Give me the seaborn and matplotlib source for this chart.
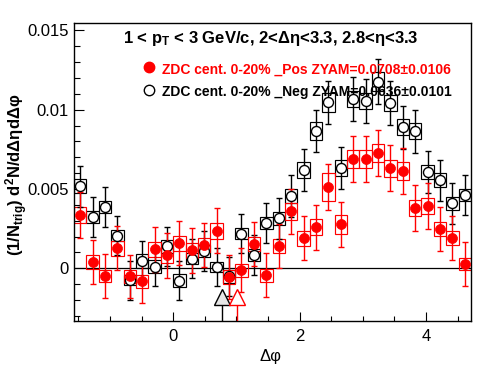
import numpy as np
import pandas as pd
import matplotlib
matplotlib.use("Agg")
import matplotlib.pyplot as plt
import seaborn as sns
from matplotlib.patches import Rectangle
from matplotlib.ticker import MultipleLocator, FixedLocator, FixedFormatter

sns.set_theme(style="white")
plt.rcParams["font.family"] = ["Liberation Sans", "DejaVu Sans"]
plt.rcParams["mathtext.default"] = "regular"
plt.rcParams["text.color"] = "black"
plt.rcParams["axes.labelcolor"] = "black"
plt.rcParams["xtick.color"] = "black"
plt.rcParams["ytick.color"] = "black"

# ---------------- data ----------------
n_bins = 32
phi_lo, phi_hi = -np.pi / 2, 3 * np.pi / 2

neg_y = [0.00518, 0.00324, 0.00387, 0.00207, -0.00076, 0.00048, 0.00011, 0.00138,
         -0.00078, 0.00061, 0.00110, 0.00009, -0.00050, 0.00219, 0.00084, 0.00286,
         0.00316, 0.00456, 0.00620, 0.00866, 0.01046, 0.00631, 0.01068, 0.01055,
         0.01177, 0.01041, 0.00890, 0.00864, 0.00608, 0.00555, 0.00410, 0.00463]
neg_stat = [0.00130, 0.00125, 0.00128, 0.00125, 0.00122, 0.00122, 0.00122, 0.00125,
            0.00122, 0.00122, 0.00125, 0.00122, 0.00122, 0.00125, 0.00125, 0.00128,
            0.00128, 0.00130, 0.00132, 0.00135, 0.00138, 0.00132, 0.00138, 0.00138,
            0.00140, 0.00138, 0.00135, 0.00135, 0.00132, 0.00130, 0.00128, 0.00128]
neg_sys = [0.00045, 0.00040, 0.00040, 0.00035, 0.00032, 0.00045, 0.00040, 0.00040,
           0.00040, 0.00035, 0.00040, 0.00030, 0.00040, 0.00035, 0.00040, 0.00040,
           0.00040, 0.00045, 0.00050, 0.00055, 0.00060, 0.00050, 0.00050, 0.00050,
           0.00060, 0.00050, 0.00050, 0.00050, 0.00045, 0.00045, 0.00040, 0.00040]

pos_y = [0.00337, 0.00040, -0.00048, 0.00127, -0.00051, -0.00081, 0.00119, 0.00082,
         0.00158, 0.00113, 0.00148, 0.00237, -0.00054, -0.00012, 0.00153, -0.00044,
         0.00141, 0.00360, 0.00190, 0.00260, 0.00513, 0.00279, 0.00690, 0.00690,
         0.00728, 0.00631, 0.00614, 0.00381, 0.00392, 0.00247, 0.00192, 0.00028]
pos_stat = [0.00143, 0.00140, 0.00140, 0.00140, 0.00138, 0.00138, 0.00140, 0.00140,
            0.00140, 0.00140, 0.00140, 0.00142, 0.00138, 0.00138, 0.00140, 0.00138,
            0.00140, 0.00143, 0.00140, 0.00142, 0.00145, 0.00142, 0.00147, 0.00147,
            0.00147, 0.00146, 0.00145, 0.00143, 0.00143, 0.00140, 0.00140, 0.00138]
pos_sys = [0.00050, 0.00046, 0.00040, 0.00046, 0.00040, 0.00040, 0.00046, 0.00046,
           0.00046, 0.00046, 0.00046, 0.00050, 0.00046, 0.00042, 0.00046, 0.00040,
           0.00046, 0.00055, 0.00046, 0.00050, 0.00086, 0.00060, 0.00058, 0.00058,
           0.00058, 0.00055, 0.00055, 0.00050, 0.00050, 0.00046, 0.00046, 0.00040]

zyam_phi = [0.777, 1.014]          # [Neg, Pos] ZYAM minimum positions
zyam_marker_y = -0.0018

title_text = r"1 < p$_{T}$ < 3 GeV/c, 2<Δη<3.3, 2.8<η<3.3"
legend_pos = "ZDC cent. 0-20% _Pos ZYAM=0.0708±0.0106"
legend_neg = "ZDC cent. 0-20% _Neg ZYAM=0.0636±0.0101"
x_label = "Δφ"
y_label = r"(1/N$_{trig}$) d$^{2}$N/dΔηdΔφ"
xtick_values = [0, 2, 4]
xtick_labels = ["0", "2", "4"]
ytick_values = [0.0, 0.005, 0.01, 0.015]
ytick_labels = ["0", "0.005", "0.01", "0.015"]

# ---------------- layout ----------------
edges = np.linspace(phi_lo, phi_hi, n_bins + 1)
centers = 0.5 * (edges[:-1] + edges[1:])
width = edges[1] - edges[0]

df = pd.concat([
    pd.DataFrame({"phi": centers, "y": neg_y, "stat": neg_stat, "sys": neg_sys, "set": "Neg"}),
    pd.DataFrame({"phi": centers, "y": pos_y, "stat": pos_stat, "sys": pos_sys, "set": "Pos"}),
], ignore_index=True)

fig = plt.figure(figsize=(4.96, 3.74), dpi=100)
ax = fig.add_axes([74 / 496, 53 / 374, 397 / 496, 298 / 374])

ax.set_xlim(phi_lo, phi_hi)
ax.set_ylim(-0.00332, 0.01547)
ax.axhline(0, color="black", lw=0.9, zorder=1)

styles = {"Neg": dict(color="black"), "Pos": dict(color="red")}
for name in ["Neg", "Pos"]:
    sub = df[df["set"] == name]
    c = styles[name]["color"]
    for _, r in sub.iterrows():
        ax.add_patch(Rectangle((r["phi"] - width / 2, r["y"] - r["sys"]), width, 2 * r["sys"],
                               fill=False, edgecolor=c, lw=0.85, zorder=2))
    ax.errorbar(sub["phi"], sub["y"], yerr=sub["stat"], fmt="none", ecolor=c,
                elinewidth=1.0, capsize=2.5, capthick=1.0, zorder=3)

neg = df[df["set"] == "Neg"]
pos = df[df["set"] == "Pos"]
sns.scatterplot(x=neg["phi"], y=neg["y"], ax=ax, marker="o", s=52, facecolor="white",
                edgecolor="black", linewidth=1.0, zorder=4)
sns.scatterplot(x=pos["phi"], y=pos["y"], ax=ax, marker="o", s=52, color="red",
                edgecolor="red", linewidth=0.5, zorder=5)

# ZYAM minimum markers
ylo = ax.get_ylim()[0]
for phi, fc, ec in [(zyam_phi[0], "#e6e6e6", "black"), (zyam_phi[1], "white", "red")]:
    ax.plot([phi, phi], [ylo, zyam_marker_y - 0.00035], color=ec, lw=1.0, zorder=5)
    ax.plot([phi], [zyam_marker_y], marker="^", ms=11, mfc=fc, mec=ec, mew=1.0, zorder=6,
            clip_on=False)

ax.set_xlabel(x_label, fontsize=12)
ax.xaxis.set_label_coords(0.495, -0.095)
ax.set_ylabel(y_label, fontsize=12, fontweight="bold")
ax.yaxis.set_label_coords(-0.112, 0.49)

ax.xaxis.set_major_locator(FixedLocator(xtick_values))
ax.xaxis.set_major_formatter(FixedFormatter(xtick_labels))
ax.xaxis.set_minor_locator(MultipleLocator(0.5))
ax.yaxis.set_major_locator(FixedLocator(ytick_values))
ax.yaxis.set_major_formatter(FixedFormatter(ytick_labels))
ax.yaxis.set_minor_locator(MultipleLocator(0.001))

ax.tick_params(axis="both", which="both", direction="in", colors="black", labelsize=12)
ax.tick_params(axis="x", which="major", length=6.3, width=0.8, pad=6)
ax.tick_params(axis="x", which="minor", length=3.3, width=0.8)
ax.tick_params(axis="y", which="major", length=7.0, width=0.8, pad=4)
ax.tick_params(axis="y", which="minor", length=4.0, width=0.8)
ax.tick_params(bottom=True, left=True, top=False, right=False)
ax.tick_params(which="minor", bottom=True, left=True, top=False, right=False)
for s in ax.spines.values():
    s.set_color("black")
    s.set_linewidth(1.0)

# title and legend (figure pixel positions)
def fx(px):
    return px / 496

def fy(py):
    return 1 - py / 374

fig.text(fx(271), fy(43), title_text, ha="center", va="baseline", fontsize=12,
         fontweight="bold", color="black")
fig.text(fx(162), fy(74), legend_pos, ha="left", va="baseline", fontsize=10,
         fontweight="bold", color="red")
fig.text(fx(162), fy(96), legend_neg, ha="left", va="baseline", fontsize=10,
         fontweight="bold", color="black")
lax = fig.add_axes([0, 0, 1, 1], facecolor="none")
lax.set_xlim(0, 496)
lax.set_ylim(374, 0)
lax.axis("off")
lax.plot([149], [67], marker="o", ms=7.5, mfc="red", mec="red")
lax.plot([149], [90], marker="o", ms=7.5, mfc="white", mec="black", mew=1.0)

fig.savefig("out.png", dpi=100)
